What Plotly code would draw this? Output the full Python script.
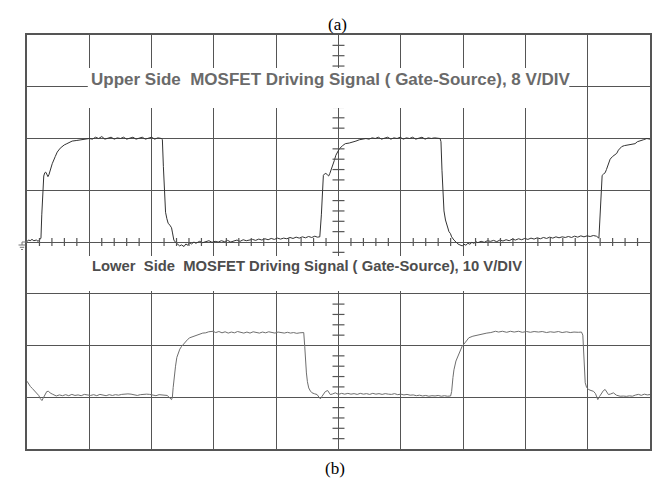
import plotly.graph_objects as go

# ---------------- data (time in divisions, voltage in volts) ----------------
upper_t = [0.0, 0.03, 0.05, 0.08, 0.11, 0.15, 0.18, 0.21, 0.224,
           0.237, 0.253, 0.269, 0.285, 0.30, 0.317, 0.336, 0.352, 0.373, 0.405, 0.453,
           0.485, 0.533, 0.565, 0.597, 0.64, 0.677, 0.725, 0.80, 0.853, 0.917, 1.0,
           1.05, 1.10, 1.15, 1.20, 1.25, 1.30, 1.35, 1.40, 1.45, 1.50, 1.55, 1.60, 1.65,
           1.70, 1.75, 1.80, 1.85, 1.90, 1.95, 2.00, 2.05, 2.10, 2.16,
           2.173, 2.189, 2.205, 2.224, 2.245, 2.266, 2.293, 2.32, 2.336, 2.357,
           2.389, 2.42, 2.45, 2.48, 2.52, 2.55, 2.58, 2.61, 2.64, 2.68, 2.71, 2.74, 2.77,
           2.82, 2.87, 2.92, 2.97, 3.02, 3.07, 3.12, 3.17, 3.22, 3.27, 3.32, 3.37, 3.42,
           3.47, 3.52, 3.57, 3.62, 3.67, 3.72, 3.77, 3.82, 3.87, 3.92, 3.97, 4.02, 4.07,
           4.12, 4.17, 4.22, 4.27, 4.32, 4.37, 4.42, 4.47, 4.52, 4.57, 4.62, 4.66, 4.70,
           4.725, 4.741, 4.757, 4.773, 4.797, 4.821, 4.842, 4.861, 4.885, 4.906, 4.933,
           4.957, 4.986, 5.013, 5.066, 5.109, 5.173, 5.221, 5.28, 5.333, 5.381, 5.44,
           5.49, 5.54, 5.59, 5.64, 5.69, 5.74, 5.79, 5.84, 5.89, 5.94, 5.99, 6.04, 6.09,
           6.14, 6.19, 6.24, 6.29, 6.34, 6.39, 6.44, 6.49, 6.54, 6.63,
           6.645, 6.661, 6.677, 6.693, 6.717, 6.755, 6.773, 6.797, 6.816, 6.853,
           6.885, 6.917, 6.949, 6.986, 7.013, 7.045, 7.077, 7.109, 7.141, 7.173, 7.205,
           7.237, 7.29, 7.34, 7.39, 7.44, 7.49, 7.54, 7.59, 7.64, 7.69, 7.74, 7.79, 7.84,
           7.89, 7.94, 7.99, 8.04, 8.09, 8.14, 8.19, 8.24, 8.29, 8.34, 8.39, 8.44, 8.49,
           8.54, 8.59, 8.64, 8.69, 8.74, 8.79, 8.84, 8.89, 8.94, 8.99, 9.04, 9.09, 9.14,
           9.18,
           9.205, 9.221, 9.232, 9.253, 9.28, 9.301, 9.333, 9.36, 9.397, 9.429, 9.466,
           9.493, 9.546, 9.589, 9.653, 9.701, 9.76, 9.797, 9.845, 9.893, 9.949, 10.0]
upper_v = [0.1, 0.3, 0.2, 0.4, 0.2, 0.3, 0.1, 0.5, 0.6,
           4.2, 8.4, 10.2, 10.7, 10.8, 10.5, 10.1, 10.4, 11.1, 12.1, 13.2,
           13.9, 14.5, 14.8, 15.0, 15.2, 15.4, 15.6, 15.7, 15.8, 15.9, 16.0,
           15.9, 16.2, 16.0, 16.3, 15.9, 16.1, 16.2, 15.9, 16.1, 16.0, 16.2, 15.9, 16.1,
           16.2, 15.9, 16.1, 16.2, 15.9, 16.1, 16.2, 15.9, 16.1, 16.0,
           15.8, 11.7, 7.2, 4.6, 3.6, 2.9, 2.6, 2.2, 1.4, 0.3,
           -0.1, -0.35, -0.6, -0.45, -0.7, -0.3, -0.5, -0.1, -0.3, 0.0, -0.2, -0.05, 0.1,
           -0.1, 0.05, 0.2, -0.05, 0.1, 0.0, 0.2, 0.05, 0.25, 0.0, 0.15, 0.3, 0.1,
           0.35, 0.2, 0.3, 0.4, 0.25, 0.45, 0.3, 0.5, 0.35, 0.55, 0.4, 0.6, 0.45,
           0.6, 0.5, 0.7, 0.55, 0.75, 0.6, 0.8, 0.65, 0.85, 0.7, 0.9, 0.75, 0.8,
           4.2, 8.1, 10.3, 10.5, 10.6, 10.4, 10.2, 10.6, 11.2, 11.7, 12.6,
           13.4, 14.0, 14.4, 14.9, 15.2, 15.3, 15.4, 15.6, 15.8, 15.9, 16.0,
           15.9, 16.1, 16.0, 16.2, 15.9, 16.1, 16.2, 15.9, 16.1, 16.0, 16.2, 15.9, 16.1,
           16.0, 16.2, 15.9, 16.1, 16.2, 15.9, 16.1, 16.0, 16.1, 16.0,
           15.5, 11.1, 7.3, 4.8, 3.4, 2.2, 1.6, 1.3, 0.8, 0.3,
           -0.05, -0.3, -0.45, -0.6, -0.35, -0.5, -0.2, -0.35, -0.05, -0.2, 0.05,
           -0.1, 0.1, -0.05, 0.2, 0.1, 0.25, 0.05, 0.3, 0.15, 0.35, 0.2, 0.45, 0.3,
           0.5, 0.35, 0.55, 0.4, 0.6, 0.45, 0.65, 0.5, 0.7, 0.55, 0.75, 0.6, 0.8,
           0.65, 0.8, 0.7, 0.85, 0.7, 0.9, 0.75, 0.95, 0.8, 0.95, 0.85, 1.0, 0.9,
           0.6,
           5.0, 8.9, 10.3, 10.5, 10.7, 11.2, 12.1, 12.8, 13.2, 13.5, 13.7,
           14.2, 14.75, 14.9, 15.05, 15.1, 15.2, 15.5, 15.6, 15.8, 16.0, 15.9]

lower_t = [0.0, 0.021, 0.053, 0.085, 0.117, 0.16, 0.189, 0.213, 0.24, 0.261, 0.293,
           0.317, 0.346, 0.373, 0.405, 0.426,
           0.47, 0.52, 0.57, 0.62, 0.67, 0.72, 0.77, 0.82, 0.87, 0.92, 0.97, 1.02, 1.07,
           1.12, 1.17, 1.22, 1.27, 1.32, 1.37, 1.42, 1.47, 1.52, 1.57, 1.62, 1.67, 1.72,
           1.77, 1.82, 1.87, 1.92, 1.97, 2.02, 2.07, 2.12, 2.17, 2.22, 2.25,
           2.32, 2.333, 2.346, 2.365, 2.384, 2.405, 2.426, 2.453, 2.48, 2.506, 2.549,
           2.581, 2.613, 2.661, 2.709, 2.773, 2.821, 2.869, 2.917, 2.986,
           3.03, 3.08, 3.13, 3.18, 3.23, 3.28, 3.33, 3.38, 3.43, 3.48, 3.53, 3.58, 3.63,
           3.68, 3.73, 3.78, 3.83, 3.88, 3.93, 3.98, 4.03, 4.08, 4.13, 4.18, 4.23, 4.28,
           4.33, 4.38, 4.43,
           4.442, 4.458, 4.469, 4.485, 4.501, 4.522, 4.549, 4.576, 4.613, 4.656, 4.685,
           4.709, 4.733, 4.762, 4.789, 4.826, 4.845, 4.869, 4.901, 4.949,
           5.0, 5.05, 5.10, 5.15, 5.20, 5.25, 5.30, 5.35, 5.40, 5.45, 5.50, 5.55, 5.60,
           5.65, 5.70, 5.75, 5.80, 5.85, 5.90, 5.95, 6.00, 6.05, 6.10, 6.15, 6.20, 6.25,
           6.30, 6.35, 6.40, 6.45, 6.50, 6.55, 6.60, 6.65, 6.70, 6.75, 6.80,
           6.816, 6.837, 6.853, 6.885, 6.933, 6.957, 6.986, 7.029, 7.093, 7.157, 7.253,
           7.317, 7.381, 7.445, 7.52,
           7.57, 7.63, 7.70, 7.76, 7.82, 7.89, 7.95, 8.02, 8.08, 8.14, 8.21, 8.27, 8.34,
           8.40, 8.46, 8.53, 8.59, 8.66, 8.72, 8.78, 8.85, 8.90,
           8.922, 8.941, 8.96, 8.981, 9.013, 9.053, 9.093, 9.125, 9.162, 9.189, 9.226,
           9.253, 9.28, 9.306, 9.333, 9.365, 9.413, 9.461, 9.52, 9.573, 9.621, 9.669,
           9.717, 9.765, 9.813, 9.861, 9.909, 9.957, 10.0]
lower_v = [3.1, 2.65, 2.1, 1.7, 1.3, 0.85, 0.33, -0.25, -0.64, -0.15, 0.71,
           1.1, 1.16, 0.81, 0.62, 0.52,
           0.25, 0.45, 0.3, 0.5, 0.3, 0.55, 0.35, 0.45, 0.3, 0.55, 0.4, 0.35, 0.5,
           0.3, 0.55, 0.4, 0.3, 0.5, 0.35, 0.5, 0.4, 0.55, 0.65, 0.65, 0.6, 0.4,
           0.35, 0.5, 0.6, 0.6, 0.55, 0.35, 0.3, 0.5, 0.4, 0.3, 0.35,
           -0.45, -0.05, 1.87, 4.4, 6.0, 7.7, 8.6, 9.3, 9.8, 10.2, 10.8,
           11.2, 11.5, 11.7, 12.0, 12.2, 12.4, 12.45, 12.65, 12.75,
           12.5, 12.7, 12.45, 12.65, 12.4, 12.6, 12.45, 12.7, 12.5, 12.4, 12.6, 12.4, 12.65,
           12.5, 12.4, 12.6, 12.45, 12.65, 12.5, 12.4, 12.6, 12.5, 12.4, 12.55, 12.4, 12.5,
           12.35, 12.45, 12.4,
           12.5, 9.85, 7.3, 4.7, 3.0, 1.8, 1.2, 0.85, 0.68, 0.52, 0.04,
           -0.31, 0.14, 0.71, 1.1, 1.3, 0.9, 0.52, 0.62, 0.85,
           0.55, 0.75, 0.6, 0.75, 0.6, 0.7, 0.55, 0.75, 0.6, 0.7, 0.55, 0.75, 0.6,
           0.7, 0.55, 0.7, 0.6, 0.55, 0.7, 0.5, 0.6, 0.45, 0.55, 0.4, 0.45, 0.3,
           0.4, 0.25, 0.35, 0.2, 0.3, 0.25, 0.35, 0.2, 0.3, 0.2, 0.25,
           1.1, 3.8, 5.3, 7.0, 8.5, 9.2, 9.9, 10.5, 11.5, 11.8, 12.1,
           12.2, 12.4, 12.5, 12.75,
           12.6, 12.75, 12.55, 12.75, 12.6, 12.75, 12.55, 12.7, 12.55, 12.7, 12.6, 12.7, 12.5,
           12.65, 12.55, 12.7, 12.5, 12.65, 12.5, 12.6, 12.55, 12.6,
           12.0, 7.2, 2.8, 1.95, 1.5, 1.3, 1.15, 0.7, -0.45, 0.14, 0.85,
           1.3, 1.5, 1.0, 0.52, 0.62, 0.85, 0.4, 0.2, 0.23, 0.17, 0.27,
           0.2, 0.42, 0.56, 0.37, 0.6, 0.45, 0.52]

upper_label = "Upper Side\u00a0\u00a0MOSFET Driving Signal ( Gate-Source), 8 V/DIV"
lower_label = "Lower\u00a0\u00a0Side\u00a0\u00a0MOSFET Driving Signal ( Gate-Source), 10 V/DIV"
upper_vdiv = 8
lower_vdiv = 10
n_xdiv = 10
n_ydiv = 8

# ---------------- figure ----------------
GRID = "#555555"
L, R, T, B = 27, 1, 35, 29
W, H = 653, 478
pw, ph = W - L - R, H - T - B

fig = go.Figure()
fig.add_trace(go.Scatter(x=upper_t, y=upper_v, mode="lines", yaxis="y",
                         line=dict(color="#333333", width=1), hoverinfo="skip"))
fig.add_trace(go.Scatter(x=lower_t, y=lower_v, mode="lines", yaxis="y2",
                         line=dict(color="#6e6e6e", width=1), hoverinfo="skip"))

ur = upper_vdiv * n_ydiv / 2
shapes = []
# minor ticks on the centre horizontal axis
for k in range(1, n_xdiv * 5):
    if k % 5 == 0:
        continue
    x = k / 5
    shapes.append(dict(type="line", xref="x", yref="y", x0=x, x1=x,
                       y0=-4 / ph * 2 * ur, y1=4 / ph * 2 * ur,
                       line=dict(color=GRID, width=1.2)))
# minor ticks on the centre vertical axis
for k in range(-n_ydiv // 2 * 5 + 1, n_ydiv // 2 * 5):
    if k % 5 == 0:
        continue
    y = k / 5 * upper_vdiv
    shapes.append(dict(type="line", xref="x", yref="y", x0=5 - 6 / pw * n_xdiv,
                       x1=5 + 6 / pw * n_xdiv, y0=y, y1=y,
                       line=dict(color=GRID, width=1.2)))


def px_to_x(px):
    return (px - L) / pw * n_xdiv


def py_to_v(py):
    return (T + ph / 2 - py) / ph * 2 * ur


# white label boxes (the scope blanks the graticule behind its labels)
shapes.append(dict(type="rect", xref="x", yref="y", x0=px_to_x(88), x1=px_to_x(571),
                   y0=py_to_v(108), y1=py_to_v(68), fillcolor="white",
                   line=dict(width=0), layer="above"))
shapes.append(dict(type="rect", xref="x", yref="y", x0=px_to_x(88), x1=px_to_x(520),
                   y0=py_to_v(291), y1=py_to_v(256), fillcolor="white",
                   line=dict(width=0), layer="above"))


# ground marker at left of the centre line
def pxp(px):
    return (px - L) / pw


def pyp(py):
    return (H - B - py) / ph


for (x0, y0, x1, y1) in [(22, 242, 27, 242), (22, 242, 22, 245), (18.5, 245, 25.5, 245),
                         (19.8, 247.3, 24.2, 247.3), (21, 249.5, 23, 249.5)]:
    shapes.append(dict(type="line", xref="paper", yref="paper", x0=pxp(x0), x1=pxp(x1),
                       y0=pyp(y0), y1=pyp(y1), line=dict(color="#777777", width=1)))

fig.update_layout(
    width=W, height=H,
    margin=dict(l=L, r=R, t=T, b=B),
    paper_bgcolor="white", plot_bgcolor="white",
    showlegend=False,
    xaxis=dict(range=[0, n_xdiv], dtick=1, showgrid=True, gridcolor=GRID, gridwidth=1.4,
               zeroline=False, showticklabels=False, ticks="", showline=True,
               mirror=True, linecolor=GRID, linewidth=1.6, fixedrange=True),
    yaxis=dict(range=[-ur, ur], dtick=upper_vdiv, showgrid=True, gridcolor=GRID,
               gridwidth=1.4, zeroline=False, showticklabels=False, ticks="",
               showline=True, mirror=True, linecolor=GRID, linewidth=1.6, fixedrange=True),
    yaxis2=dict(range=[-lower_vdiv, lower_vdiv * (n_ydiv - 1)], overlaying="y",
                showgrid=False, zeroline=False, showticklabels=False, ticks="",
                showline=False, fixedrange=True),
    shapes=shapes,
)

fig.add_annotation(x=px_to_x(89), y=py_to_v(79.5), xref="x", yref="y", text=upper_label,
                   showarrow=False, xanchor="left", yanchor="middle",
                   font=dict(family="Liberation Sans, Arial", size=17, color="#6a6a6a",
                             weight="bold"))
fig.add_annotation(x=px_to_x(90), y=py_to_v(266), xref="x", yref="y", text=lower_label,
                   showarrow=False, xanchor="left", yanchor="middle",
                   font=dict(family="Liberation Sans, Arial", size=14.8, color="#4d4d4d",
                             weight="bold"))
fig.add_annotation(x=pxp(338), y=pyp(25), xref="paper", yref="paper", text="(a)",
                   showarrow=False, xanchor="center", yanchor="middle",
                   font=dict(family="Liberation Serif, Times New Roman", size=17, color="black"))
fig.add_annotation(x=pxp(336), y=pyp(468.5), xref="paper", yref="paper", text="(b)",
                   showarrow=False, xanchor="center", yanchor="middle",
                   font=dict(family="Liberation Serif, Times New Roman", size=17, color="black"))

fig.write_html("out.html", config={"displayModeBar": False},
               post_script="document.body.style.margin='0';"
                           "document.body.style.overflow='hidden';")
